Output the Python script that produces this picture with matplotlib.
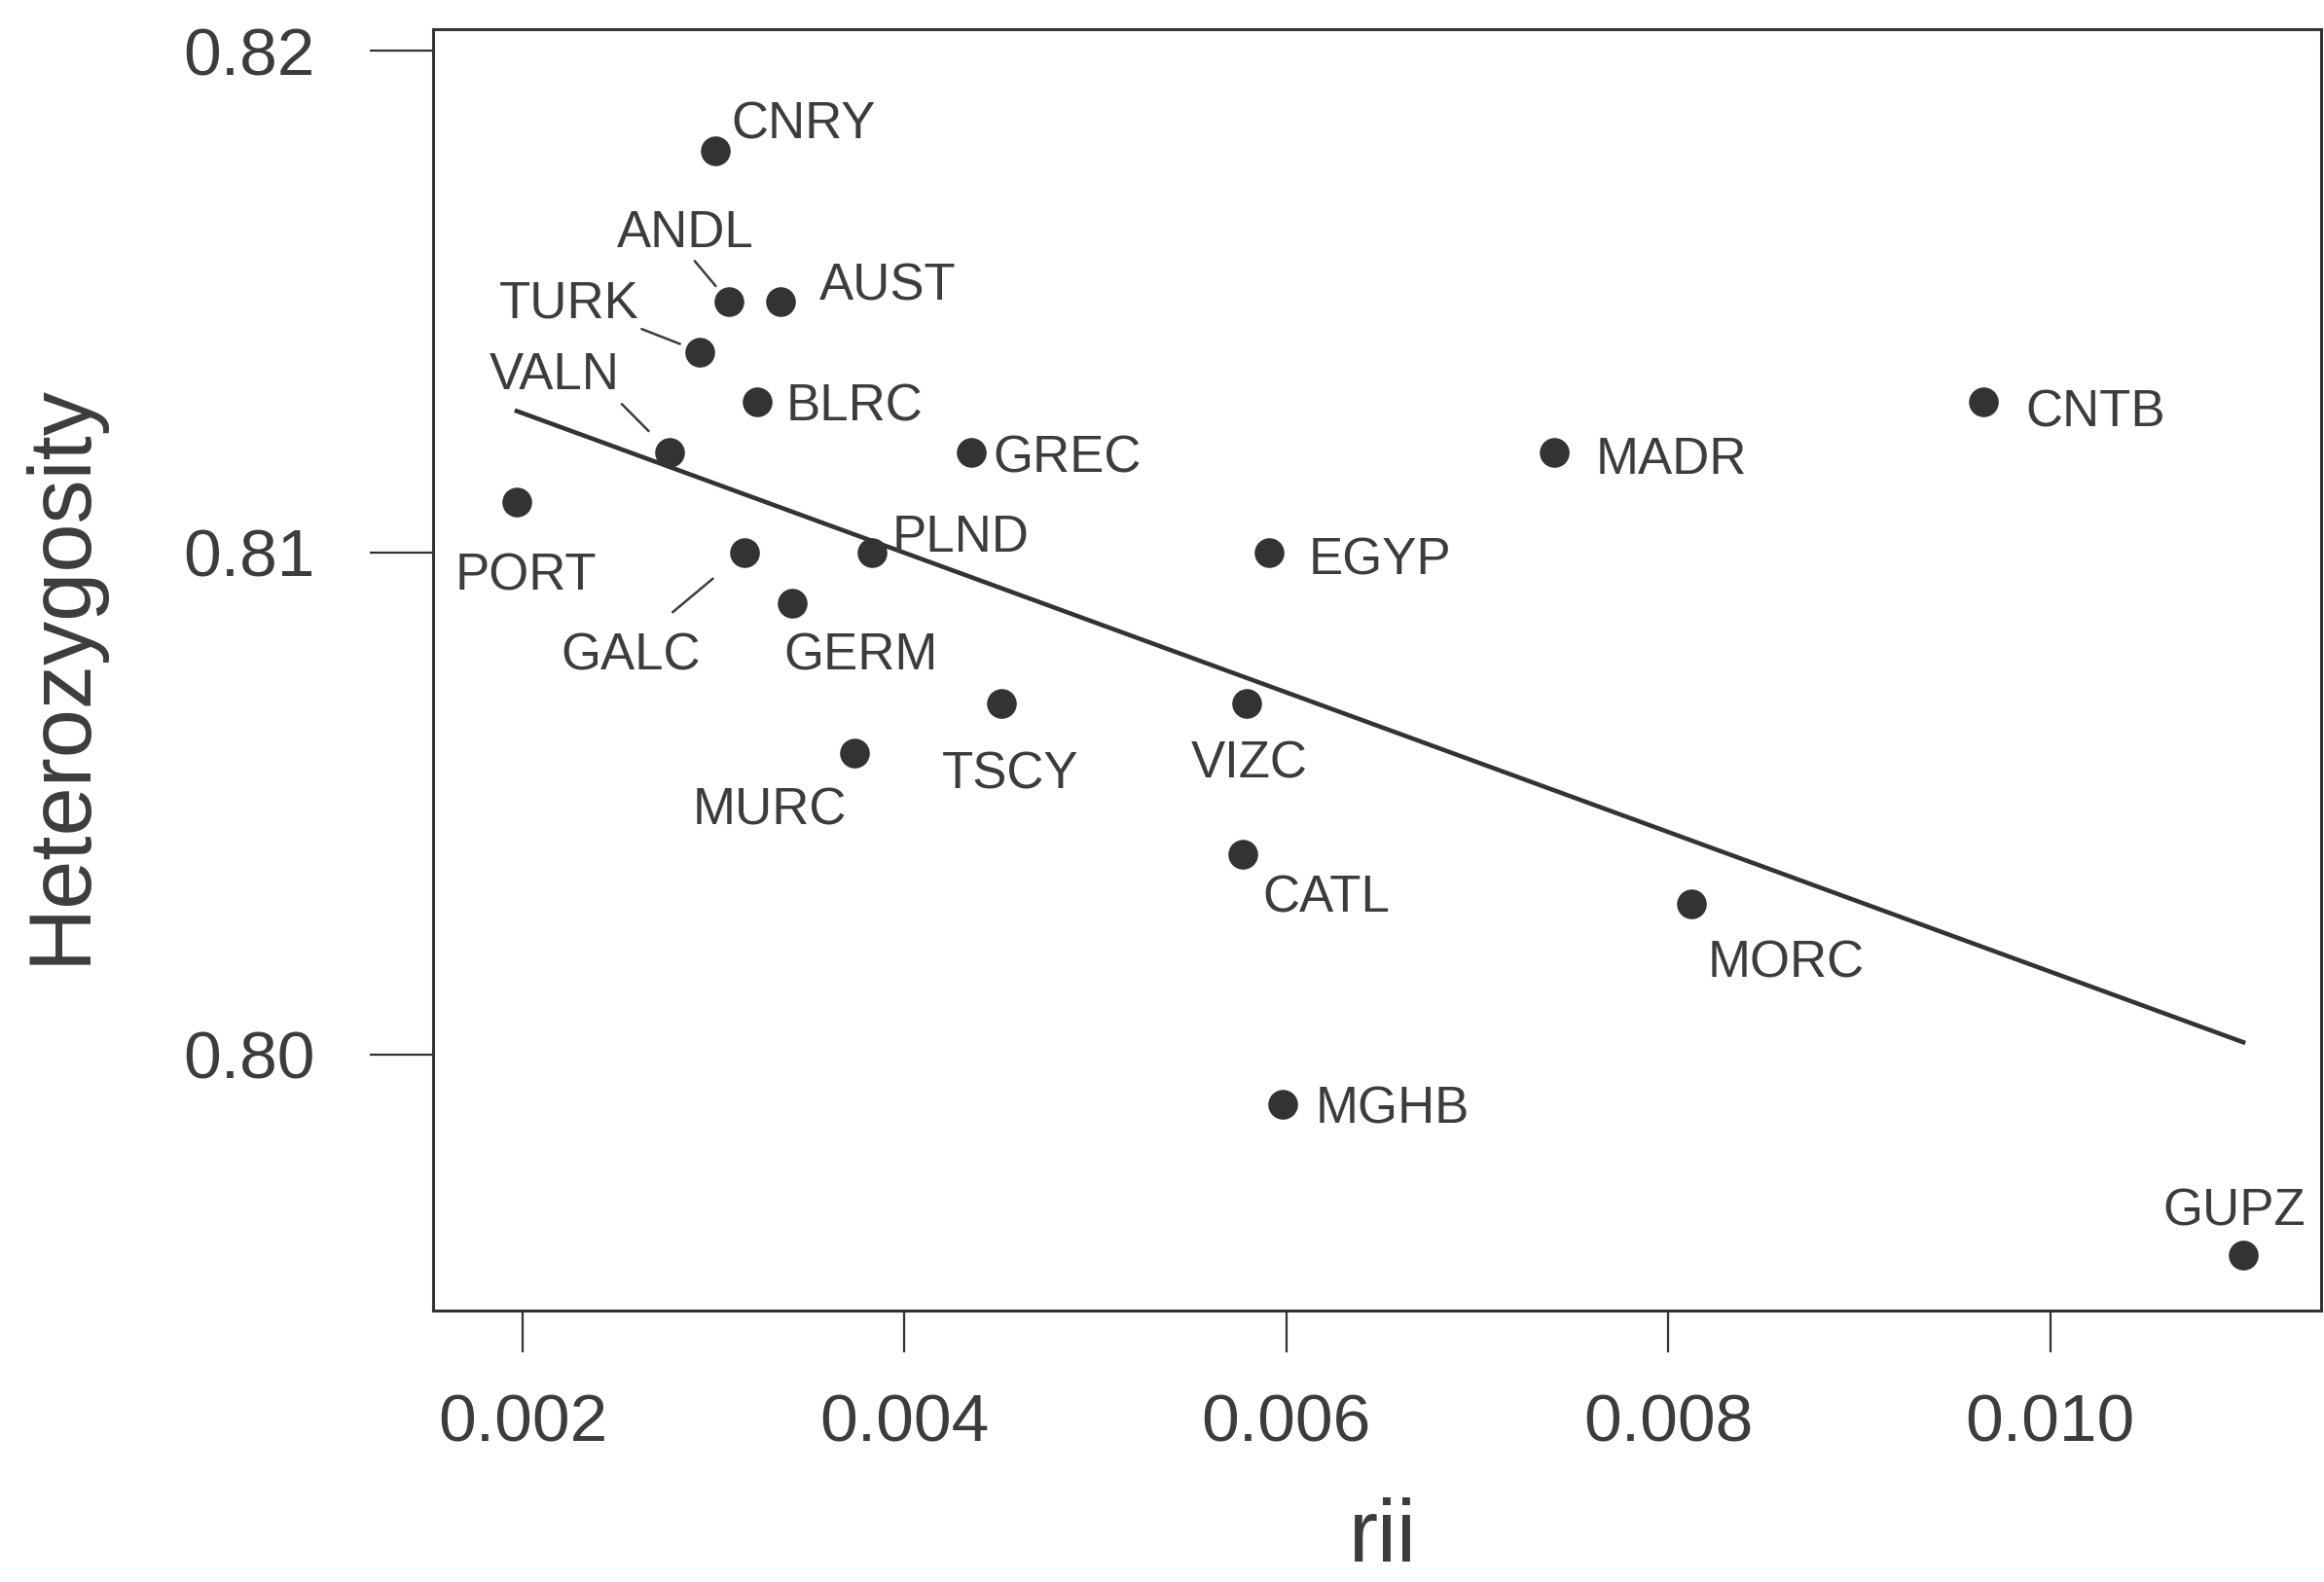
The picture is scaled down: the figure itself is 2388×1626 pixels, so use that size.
import matplotlib
matplotlib.use('Agg')
import matplotlib.pyplot as plt
import numpy as np

plt.rcParams['font.family'] = ['Liberation Sans', 'DejaVu Sans']

# populations, rii (x) and heterozygosity (y)
pops = ['CNRY', 'ANDL', 'AUST', 'TURK', 'BLRC', 'VALN', 'GREC', 'PORT', 'PLND', 'GALC',
        'GERM', 'EGYP', 'MADR', 'CNTB', 'TSCY', 'VIZC', 'MURC', 'CATL', 'MORC', 'MGHB', 'GUPZ']
rii = [0.00301, 0.00308, 0.00335, 0.00293, 0.00323, 0.00277, 0.00435, 0.00197, 0.00383, 0.00316,
       0.00341, 0.00591, 0.00740, 0.00965, 0.00451, 0.00579, 0.00374, 0.00577, 0.00812, 0.00598, 0.01101]
het = [0.818, 0.815, 0.815, 0.814, 0.813, 0.812, 0.812, 0.811, 0.810, 0.810,
       0.809, 0.810, 0.812, 0.813, 0.807, 0.807, 0.806, 0.804, 0.803, 0.799, 0.796]

# regression line as drawn in the figure
fit_slope = -1.391
fit_intercept = 0.81556

xticks = [0.002, 0.004, 0.006, 0.008, 0.010]
xtick_labels = ['0.002', '0.004', '0.006', '0.008', '0.010']
yticks = [0.80, 0.81, 0.82]
ytick_labels = ['0.80', '0.81', '0.82']

# label placement (offset in points, horizontal alignment)
lab_pos = {
    'CNRY': (12, 9, 'left'), 'ANDL': (-32, 40, 'center'), 'AUST': (29, 1, 'left'),
    'TURK': (-97, 25, 'center'), 'BLRC': (21, -14, 'left'), 'VALN': (-85, 47, 'center'),
    'GREC': (16, -15, 'left'), 'PORT': (7, -65, 'center'), 'PLND': (15, 1, 'left'),
    'GALC': (-84, -87, 'center'), 'GERM': (51, -50, 'center'), 'EGYP': (29, -16, 'left'),
    'MADR': (31, -16, 'left'), 'CNTB': (31, -18, 'left'), 'TSCY': (6, -63, 'center'),
    'VIZC': (2, -55, 'center'), 'MURC': (-63, -53, 'center'), 'CATL': (15, -43, 'left'),
    'MORC': (12, -54, 'left'), 'MGHB': (24, -14, 'left'), 'GUPZ': (-7, 22, 'center'),
}
# leader lines: relpos on text, shrinkA, shrinkB
leaders = {
    'ANDL': ((0.55, 0.0), 0, 15),
    'TURK': ((0.97, 0.05), 0, 16),
    'VALN': ((0.98, 0.0), 2, 22),
    'GALC': ((0.63, 1.0), 20, 30),
}

ink = '#333333'
txt = '#3c3c3c'

fig = plt.figure(figsize=(23.88, 16.26), dpi=100)
ax = fig.add_axes([0.1863, 0.1716, 0.8124, 0.8099])

ax.plot(rii, het, 'o', ms=21, color=ink, zorder=3)
xs = np.array([min(rii), max(rii)])
ax.plot(xs, fit_intercept + fit_slope * xs, color=ink, lw=3.3, zorder=2)

for name, x, y in zip(pops, rii, het):
    dx, dy, ha = lab_pos[name]
    kw = {}
    if name in leaders:
        rp, sa, sb = leaders[name]
        kw['arrowprops'] = dict(arrowstyle='-', color=txt, lw=1.8,
                                relpos=rp, shrinkA=sa, shrinkB=sb)
    ax.annotate(name, (x, y), xytext=(dx, dy), textcoords='offset points',
                ha=ha, va='baseline', fontsize=38, color=txt, **kw)

ax.set_xlim(0.001531, 0.011417)
ax.set_ylim(0.7949, 0.820426)
ax.set_xticks(xticks)
ax.set_xticklabels(xtick_labels)
ax.set_yticks(yticks)
ax.set_yticklabels(ytick_labels)
ax.tick_params(axis='x', length=31, width=1.6, pad=30, labelsize=50, color=ink, labelcolor=txt)
ax.tick_params(axis='y', length=47, width=1.6, pad=40, labelsize=50, color=ink, labelcolor=txt)
for sp in ax.spines.values():
    sp.set_linewidth(2.2)
    sp.set_color(ink)

ax.set_xlabel('rii', fontsize=65, color=txt)
ax.xaxis.label.set_va('baseline')
ax.xaxis.set_label_coords(0.503, -0.196)
ax.set_ylabel('Heterozygosity', fontsize=65, color=txt)
ax.yaxis.label.set_va('baseline')
ax.yaxis.set_label_coords(-0.1845, 0.497)

fig.savefig('out.png', dpi=100)
